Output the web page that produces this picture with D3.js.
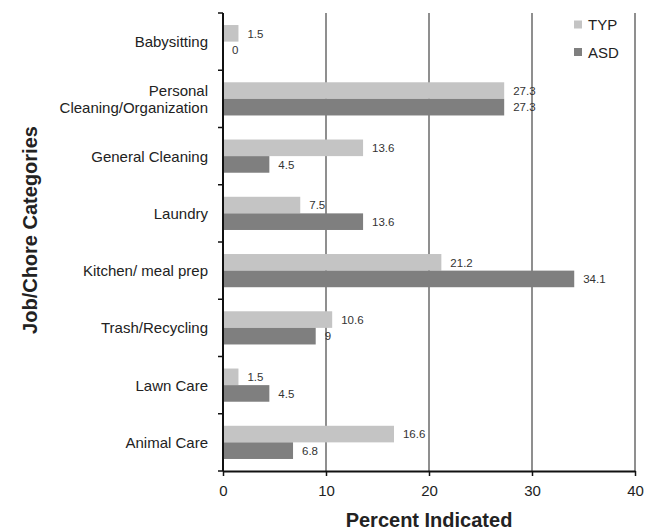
<!DOCTYPE html>
<html>
<head>
<meta charset="utf-8">
<script src="https://cdn.jsdelivr.net/npm/d3@7"></script>
<style>
  body { margin: 0; background: #fff; }
  svg { font-family: Arial, "Liberation Sans", sans-serif; }
</style>
</head>
<body>
<svg id="chart" width="657" height="530"></svg>
<script>
const categories = ["Babysitting", "Personal\nCleaning/Organization", "General Cleaning", "Laundry",
  "Kitchen/ meal prep", "Trash/Recycling", "Lawn Care", "Animal Care"];
const seriesNames = ["TYP", "ASD"];
const typValues = [1.5, 27.3, 13.6, 7.5, 21.2, 10.6, 1.5, 16.6];
const asdValues = [0, 27.3, 4.5, 13.6, 34.1, 9, 4.5, 6.8];
const xTicks = [0, 10, 20, 30, 40];
const colors = ["#c4c4c4", "#7f7f7f"];

const svg = d3.select("#chart");
const plotLeft = 223, plotRight = 635, plotTop = 13, plotBottom = 471;

const x = d3.scaleLinear().domain([0, 40]).range([plotLeft, plotRight]);
const y = d3.scaleBand().domain(categories).range([plotTop, plotBottom]).paddingInner(0.42).paddingOuter(0.21);
const ys = d3.scaleBand().domain(seriesNames).range([0, y.bandwidth()]);

// vertical gridlines
svg.append("g").selectAll("line").data(xTicks.slice(1)).join("line")
  .attr("x1", d => x(d)).attr("x2", d => x(d))
  .attr("y1", plotTop).attr("y2", plotBottom)
  .attr("stroke", "#6a6a6a").attr("stroke-width", 1.5);

// bars
const rows = categories.map((c, i) => ({ c, vals: [typValues[i], asdValues[i]] }));
const g = svg.append("g").selectAll("g").data(rows).join("g")
  .attr("transform", d => `translate(0,${y(d.c)})`);
g.selectAll("rect").data(d => d.vals.map((v, k) => ({ v, k }))).join("rect")
  .attr("x", x(0)).attr("y", d => ys(seriesNames[d.k]))
  .attr("width", d => x(d.v) - x(0)).attr("height", ys.bandwidth())
  .attr("fill", d => colors[d.k]);
g.selectAll("text").data(d => d.vals.map((v, k) => ({ v, k }))).join("text")
  .attr("x", d => x(d.v) + 9)
  .attr("y", d => ys(seriesNames[d.k]) + ys.bandwidth() / 2 + 4.2)
  .attr("font-size", 11.5).attr("fill", "#333")
  .text(d => d.v);

// x axis
const xAxis = svg.append("g").attr("transform", `translate(0,${plotBottom})`)
  .call(d3.axisBottom(x).tickValues(xTicks).tickSize(5).tickSizeOuter(0).tickPadding(9));
xAxis.select(".domain").attr("stroke", "#111").attr("stroke-width", 2);
xAxis.selectAll(".tick line").attr("stroke", "#111").attr("stroke-width", 1.5);
xAxis.selectAll("text").attr("font-size", 15).attr("fill", "#222")
  .attr("font-family", "Arial, 'Liberation Sans', sans-serif");

// y axis with ticks at band boundaries
svg.append("line").attr("x1", plotLeft).attr("x2", plotLeft).attr("y1", plotTop).attr("y2", plotBottom)
  .attr("stroke", "#111").attr("stroke-width", 2);
const step = (plotBottom - plotTop) / categories.length;
svg.append("g").selectAll("line").data(d3.range(categories.length + 1)).join("line")
  .attr("x1", plotLeft - 5).attr("x2", plotLeft)
  .attr("y1", i => plotTop + i * step).attr("y2", i => plotTop + i * step)
  .attr("stroke", "#111").attr("stroke-width", 1.5);

// category labels
const lab = svg.append("g").selectAll("text").data(categories).join("text")
  .attr("text-anchor", "end").attr("font-size", 15).attr("fill", "#222")
  .attr("transform", d => `translate(208,${y(d) + y.bandwidth() / 2})`);
lab.each(function(d) {
  const lines = d.split("\n");
  const t = d3.select(this);
  lines.forEach((l, i) => {
    t.append("tspan").attr("x", 0)
      .attr("y", (i - (lines.length - 1) / 2) * 17.5 + 5.5)
      .text(l);
  });
});

// legend
const leg = svg.append("g").selectAll("g").data(seriesNames).join("g")
  .attr("transform", (d, i) => `translate(574,${20.5 + i * 27.5})`);
leg.append("rect").attr("width", 8).attr("height", 8).attr("fill", (d, i) => colors[i]);
leg.append("text").attr("x", 14).attr("y", 9.5).attr("font-size", 15).attr("fill", "#222").text(d => d);

// axis titles
svg.append("text").attr("x", (plotLeft + plotRight) / 2 + 0).attr("y", 527)
  .attr("text-anchor", "middle").attr("font-size", 20).attr("font-weight", "bold").attr("fill", "#222")
  .text("Percent Indicated");
svg.append("text").attr("transform", `translate(37,230) rotate(-90)`)
  .attr("text-anchor", "middle").attr("font-size", 20).attr("font-weight", "bold").attr("fill", "#222")
  .text("Job/Chore Categories");
</script>
</body>
</html>
